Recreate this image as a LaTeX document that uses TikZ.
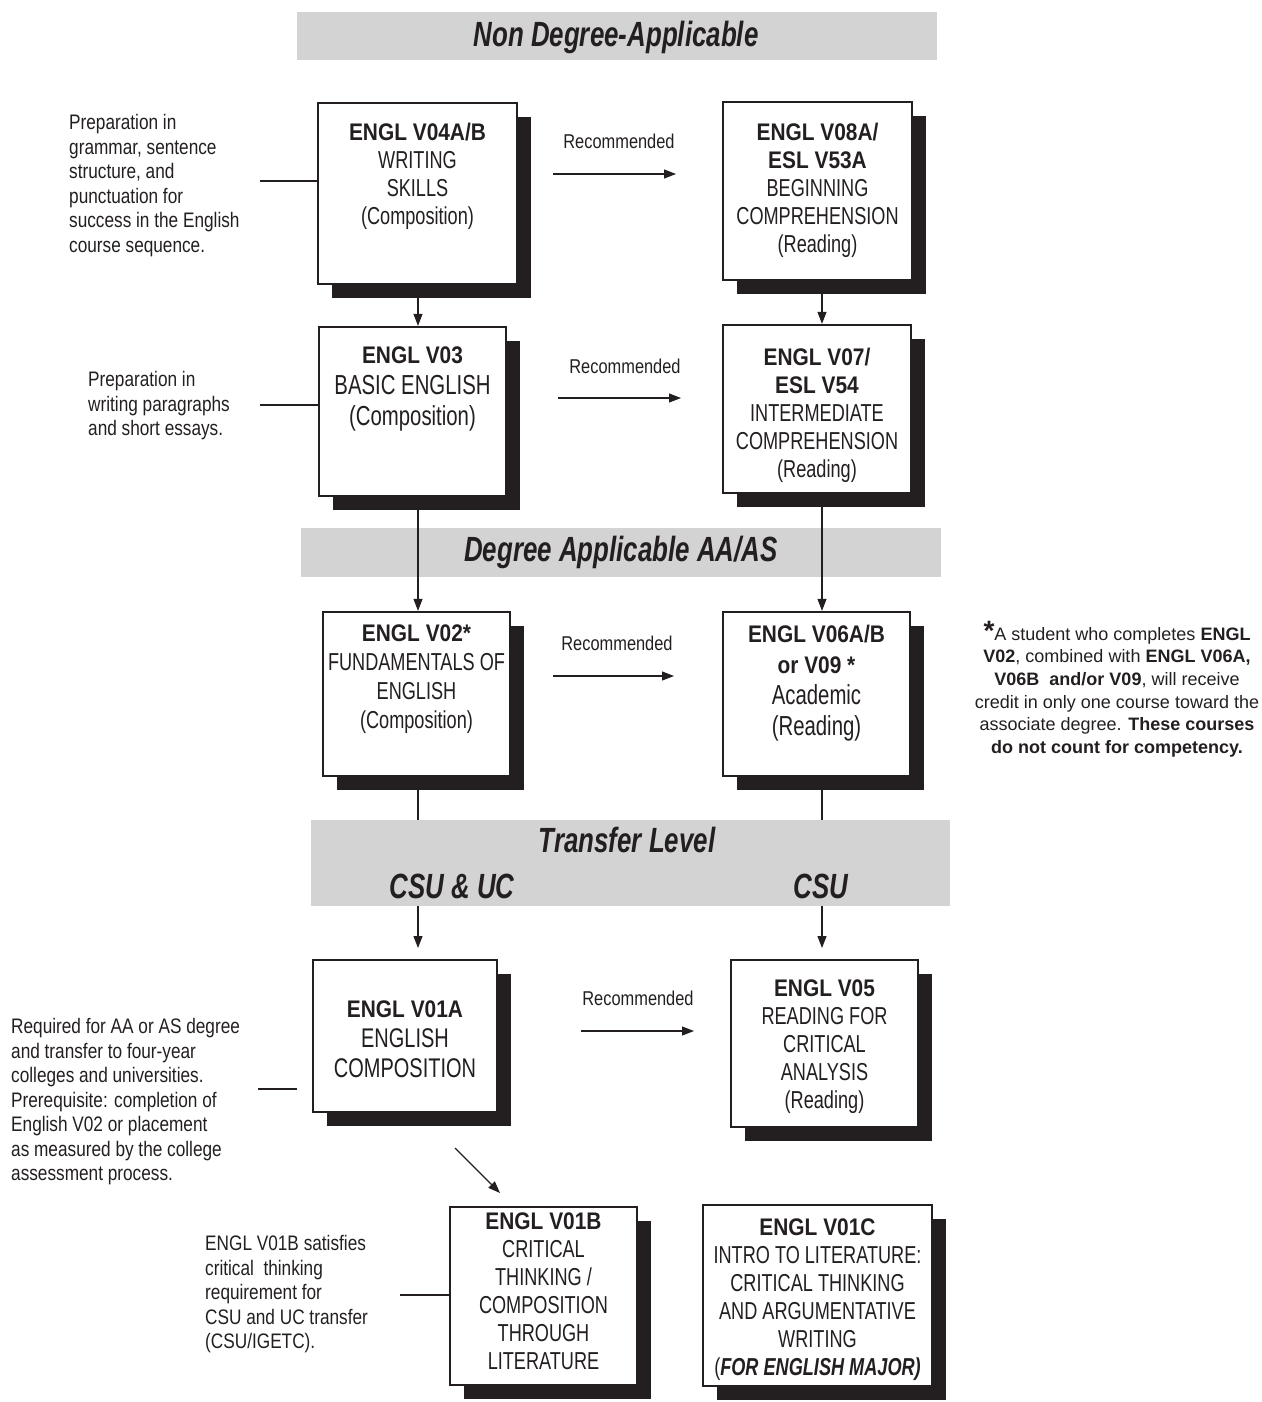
\documentclass[tikz,border=0pt]{standalone}
\usepackage{fontspec}
\setmainfont{Liberation Sans}
\newfontfamily\cond{Liberation Sans}[FakeStretch=0.82]
\newfontfamily\condb{Liberation Sans}[FakeStretch=0.74]
\newfontfamily\condt{Liberation Sans}[FakeStretch=0.87]
\usetikzlibrary{arrows.meta,shadows}
\definecolor{ink}{RGB}{35,31,32}
\definecolor{bangray}{RGB}{211,211,211}
\newcommand\crsbox[5]{\node[cbox, minimum width={#4-#2}, minimum height={#5-#3}] (#1) at ({(#2+#4)/2},{(#3+#5)/2}) {};}
\newcommand\banbox[5]{\node[bannerbox, minimum width={#4-#2}, minimum height={#5-#3}] (#1) at ({(#2+#4)/2},{(#3+#5)/2}) {};}
\newcommand\crstitle[1]{{\condt\bfseries\fontsize{24}{28}\selectfont #1}}
\begin{document}
\begin{tikzpicture}[x=1pt,y=-1pt,
  bannerbox/.style={fill=bangray, draw=none, inner sep=0pt},
  bantext/.style={font=\condb\bfseries\itshape\fontsize{35}{38}\selectfont, text=ink, inner sep=0pt},
  cbox/.style={draw=ink, line width=2.3pt, fill=white, inner sep=0pt,
    drop shadow={shadow xshift=14pt, shadow yshift=-14pt, fill=ink, opacity=1}},
  btxt/.style={font=\condb\fontsize{24.5}{28}\selectfont, text=ink, align=center, inner sep=0pt, anchor=north},
  bigtxt/.style={font=\condb\fontsize{27.5}{31}\selectfont, text=ink, align=center, inner sep=0pt, anchor=north},
  note/.style={font=\cond\fontsize{21}{24.5}\selectfont, text=ink, align=left, inner sep=0pt, anchor=north west},
  rec/.style={font=\cond\fontsize{20}{24}\selectfont, text=ink, inner sep=0pt},
  conn/.style={draw=ink, line width=1.1pt},
  arr/.style={draw=ink, line width=1.1pt, -{Triangle[length=12pt,width=9pt]}}
]
\useasboundingbox (0,0) rectangle (1261,1402);

% banners
\banbox{ban1}{297}{12}{937}{60}
\node[bantext] (ban1t) at (616,37) {Non Degree-Applicable};
\banbox{ban2}{301}{528}{941}{577}
\node[bantext] (ban2t) at (621,552) {Degree Applicable AA/AS};
\banbox{ban3}{311}{820}{950}{906}
\node[bantext] (ban3t) at (627,840) {Transfer Level};
\node[bantext] (ban3a) at (452,886) {CSU \& UC};
\node[bantext] (ban3b) at (821,886) {CSU};

% course boxes
\crsbox{b1}{318}{103}{517}{284}
\crsbox{b2}{723}{102}{912}{280}
\crsbox{b3}{319}{327}{506}{496}
\crsbox{b4}{723}{325}{911}{493}
\crsbox{b5}{323}{612}{510}{776}
\crsbox{b6}{723}{612}{910}{776}
\crsbox{b7}{313}{960}{497}{1112}
\crsbox{b8}{731}{960}{918}{1127}
\crsbox{b9}{450}{1207}{637}{1385}
\crsbox{b10}{703}{1205}{932}{1386}

% box texts
\node[btxt] (t1) at (417.5,123) {\crstitle{ENGL V04A/B}\\WRITING\\SKILLS\\(Composition)};
\node[btxt] (t2) at (817.5,123) {\crstitle{ENGL V08A/}\\\crstitle{ESL V53A}\\BEGINNING\\COMPREHENSION\\(Reading)};
\node[bigtxt] (t3) at (412.5,347) {\crstitle{ENGL V03}\\BASIC ENGLISH\\(Composition)};
\node[btxt] (t4) at (817,348) {\crstitle{ENGL V07/}\\\crstitle{ESL V54}\\INTERMEDIATE\\COMPREHENSION\\(Reading)};
\node[btxt, font=\condb\fontsize{24.5}{29}\selectfont] (t5) at (416.5,625) {\crstitle{ENGL V02*}\\FUNDAMENTALS OF\\ENGLISH\\(Composition)};
\node[bigtxt] (t6) at (816.5,625) {\crstitle{ENGL V06A/B}\\\crstitle{or V09 *}\\Academic\\(Reading)};
\node[bigtxt, font=\condb\fontsize{27}{30}\selectfont] (t7) at (405,1001) {\crstitle{ENGL V01A}\\ENGLISH\\COMPOSITION};
\node[btxt] (t8) at (824.5,980) {\crstitle{ENGL V05}\\READING FOR\\CRITICAL\\ANALYSIS\\(Reading)};
\node[btxt] (t9) at (543.5,1213) {\crstitle{ENGL V01B}\\CRITICAL\\THINKING /\\COMPOSITION\\THROUGH\\LITERATURE};
\node[btxt] (t10) at (817.5,1219) {\crstitle{ENGL V01C}\\INTRO TO LITERATURE:\\CRITICAL THINKING\\AND ARGUMENTATIVE\\WRITING\\({\bfseries\itshape FOR ENGLISH MAJOR)}};

% side notes
\node[note] (n1) at (69,114.5) {Preparation in\\grammar, sentence\\structure, and\\punctuation for\\success in the English\\course sequence.};
\node[note] (n2) at (88,371.5) {Preparation in\\writing paragraphs\\and short essays.};
\node[note] (n3) at (11,1018.5) {Required for AA or AS degree\\and transfer to four-year\\colleges and universities.\\Prerequisite: completion of\\English V02 or placement\\as measured by the college\\assessment process.};
\node[note] (n4) at (205,1235.5) {ENGL V01B satisfies\\critical\ \ thinking\\requirement for\\CSU and UC transfer\\(CSU/IGETC).};

% footnote
\node[font=\fontsize{18}{22.6}\selectfont, text=ink, align=center, inner sep=0pt, anchor=north] (fn) at (1117,627)
 {\smash{\fontsize{28}{28}\selectfont\bfseries *}A student who completes \textbf{ENGL}\\
  \textbf{V02}, combined with \textbf{ENGL V06A,}\\
  \textbf{V06B\ \ and/or V09}, will receive\\
  credit in only one course toward the\\
  associate degree. \textbf{These courses}\\
  \textbf{do not count for competency.}};

% note connectors
\coordinate (c1) at (260,181);
\draw[conn] (c1) -- (c1 -| b1.west);
\coordinate (c2) at (260,405);
\draw[conn] (c2) -- (c2 -| b3.west);
\coordinate (c3a) at (258,1089);
\coordinate (c3b) at (297,1089);
\draw[conn] (c3a) -- (c3b);
\coordinate (c4) at (400,1295);
\draw[conn] (c4) -- (c4 -| b9.west);

% recommended arrows
\node[rec] (r1) at (619,141) {Recommended};
\coordinate (r1a) at (553,174); \coordinate (r1b) at (676,174);
\draw[arr] (r1a) -- (r1b);
\node[rec] (r2) at (625,366) {Recommended};
\coordinate (r2a) at (558,398); \coordinate (r2b) at (681,398);
\draw[arr] (r2a) -- (r2b);
\node[rec] (r3) at (617,643) {Recommended};
\coordinate (r3a) at (553,676); \coordinate (r3b) at (674,676);
\draw[arr] (r3a) -- (r3b);
\node[rec] (r4) at (638,998) {Recommended};
\coordinate (r4a) at (581,1031); \coordinate (r4b) at (694,1031);
\draw[arr] (r4a) -- (r4b);

% vertical flow
\coordinate (v1) at (418,298);
\draw[arr] (v1) -- (v1 |- b3.north);
\coordinate (v2) at (822,294);
\draw[arr] (v2) -- (v2 |- b4.north);
\coordinate (v3) at (418,510);
\draw[arr] (v3) -- (v3 |- b5.north);
\coordinate (v4) at (822,507);
\draw[arr] (v4) -- (v4 |- b6.north);
\coordinate (v5) at (418,790);
\draw[conn] (v5) -- (v5 |- ban3.north);
\coordinate (v6) at (822,790);
\draw[conn] (v6) -- (v6 |- ban3.north);
\coordinate (v7) at (418,948);
\draw[arr] (v7 |- ban3.south) -- (v7);
\coordinate (v8) at (822,948);
\draw[arr] (v8 |- ban3.south) -- (v8);
\coordinate (d1) at (455,1148);
\coordinate (d2) at (500,1193);
\draw[arr] (d1) -- (d2);
\end{tikzpicture}
\end{document}
